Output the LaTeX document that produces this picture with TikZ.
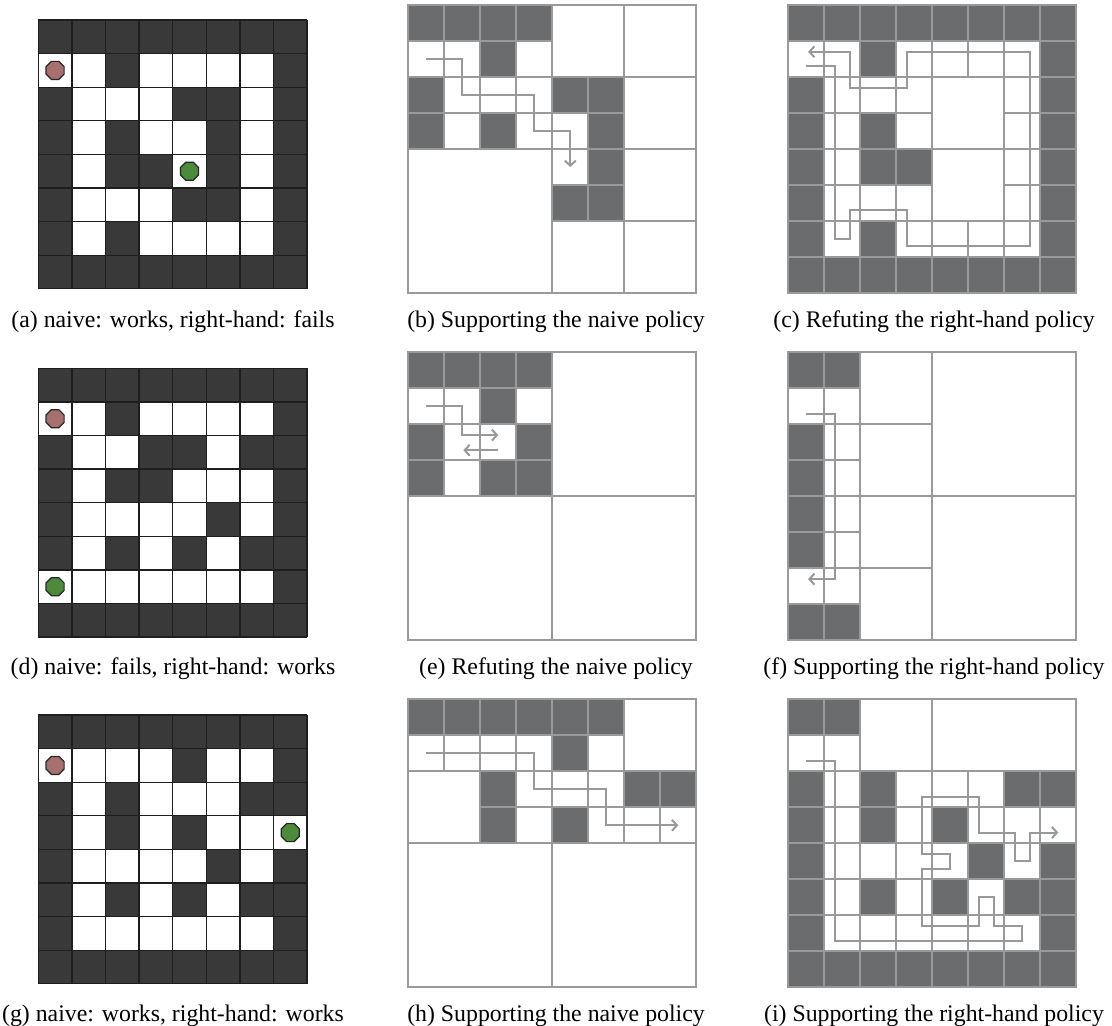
\documentclass[tikz,border=0pt]{standalone}
\usepackage{fontspec}
\setmainfont{Liberation Serif}
\usetikzlibrary{arrows.meta,shapes.geometric}
\definecolor{mzdark}{HTML}{393939}
\definecolor{mzline}{HTML}{1E1E1E}
\definecolor{qdark}{HTML}{6B6C6E}
\definecolor{qline}{HTML}{9A9A9A}
\definecolor{qpath}{HTML}{999999}
\definecolor{startc}{HTML}{A5706E}
\definecolor{goalc}{HTML}{4B8B3B}
\tikzset{
  qgrid/.style={draw=qline, line width=2pt},
  qpathst/.style={draw=qpath, line width=2pt, line join=miter, -{Straight Barb[length=5pt,width=11pt]}},
  mzgrid/.style={draw=mzline, line width=1.3pt},
  captionst/.style={font=\fontsize{23.8}{28}\selectfont, anchor=base, inner sep=0pt},
  dotst/.style={regular polygon, regular polygon sides=8, minimum size=19.5pt, inner sep=0pt, draw=black!85, line width=1.2pt},
}
\newcommand{\subgrid}[4]{\foreach \xx in {#1,...,#2}{\foreach \yy in {#3,...,#4}{\draw[qgrid] (\xx,\yy) rectangle ++(1,1);}}}
\newcommand{\blk}[3]{\draw[qgrid] (#1,#2) rectangle ++(#3,#3);}
\newcommand{\darkcells}[1]{\foreach \xx/\yy in {#1}{\fill[qdark] (\xx,\yy) rectangle ++(1,1);}}
\newcommand{\mazecells}[1]{%
  \fill[mzdark] (0,0) rectangle (8,8);
  \foreach \rr/\cs in {#1}{\foreach \cc in \cs {\fill[white] (\cc,\rr) rectangle ++(1,1);}}
  \foreach \ii in {0,...,8}{\draw[mzgrid] (\ii,0) -- (\ii,8); \draw[mzgrid] (0,\ii) -- (8,\ii);}
}
\begin{document}
\begin{tikzpicture}[x=1pt,y=-1pt]
\useasboundingbox (0,0) rectangle (1112,1026);
\fill[white] (0,0) rectangle (1112,1026);

% ---------- Row 1 ----------
\begin{scope}[x=33.6pt,y=-33.6pt,shift={(38.3pt,-20pt)}]
  \mazecells{1/{0,1,3,4,5,6},2/{1,2,3,6},3/{1,3,4,6},4/{1,4,6},5/{1,2,3,6},6/{1,3,4,5,6}}
  \node[dotst,fill=startc] (sa) at (0.5,1.5) {};
  \node[dotst,fill=goalc] (ga) at (4.5,4.5) {};
\end{scope}
\begin{scope}[x=36pt,y=-36pt,shift={(408.3pt,-5pt)}]
  \darkcells{0/0,1/0,2/0,3/0,2/1,0/2,0/3,2/3,4/2,5/2,5/3,5/4,4/5,5/5}
  \subgrid{0}{3}{0}{3}
  \subgrid{4}{5}{2}{5}
  \blk{4}{0}{2}\blk{6}{0}{2}\blk{6}{2}{2}\blk{0}{4}{4}\blk{6}{4}{2}\blk{4}{6}{2}\blk{6}{6}{2}
  \draw[qpathst] (0.5,1.5) -- (1.5,1.5) -- (1.5,2.5) -- (3.5,2.5) -- (3.5,3.5) -- (4.5,3.5) -- (4.5,4.5);
\end{scope}
\begin{scope}[x=36pt,y=-36pt,shift={(788.3pt,-5pt)}]
  \darkcells{0/0,1/0,2/0,3/0,4/0,5/0,6/0,7/0,0/7,1/7,2/7,3/7,4/7,5/7,6/7,7/7,
    0/2,0/3,0/4,0/5,0/6,7/1,7/2,7/3,7/4,7/5,7/6,2/1,2/3,2/4,3/4,2/6}
  \subgrid{0}{3}{0}{7}
  \subgrid{6}{7}{0}{7}
  \subgrid{4}{5}{0}{1}
  \subgrid{4}{5}{6}{7}
  \blk{4}{2}{2}\blk{4}{4}{2}
  \draw[qpathst] (0.5,1.7) -- (1.3,1.7) -- (1.3,6.5) -- (1.7,6.5) -- (1.7,5.7) -- (3.3,5.7) -- (3.3,6.7) -- (6.7,6.7) -- (6.7,1.3) -- (3.3,1.3) -- (3.3,2.3) -- (1.7,2.3) -- (1.7,1.3) -- (0.55,1.3);
\end{scope}
\node[captionst] (capa) at (173,327) {(a) naive: works, right-hand: fails};
\node[captionst] (capb) at (556,327) {(b) Supporting the naive policy};
\node[captionst] (capc) at (934,327) {(c) Refuting the right-hand policy};

% ---------- Row 2 ----------
\begin{scope}[x=33.6pt,y=-33.6pt,shift={(38.3pt,-368.3pt)}]
  \mazecells{1/{0,1,3,4,5,6},2/{1,2,5},3/{1,4,5,6},4/{1,2,3,4,6},5/{1,3,5},6/{0,1,2,3,4,5,6}}
  \node[dotst,fill=startc] (sd) at (0.5,1.5) {};
  \node[dotst,fill=goalc] (gd) at (0.5,6.5) {};
\end{scope}
\begin{scope}[x=36pt,y=-36pt,shift={(408.3pt,-352.3pt)}]
  \darkcells{0/0,1/0,2/0,3/0,2/1,0/2,3/2,0/3,2/3,3/3}
  \subgrid{0}{3}{0}{3}
  \blk{4}{0}{4}\blk{0}{4}{4}\blk{4}{4}{4}
  \draw[qpathst] (0.5,1.5) -- (1.5,1.5) -- (1.5,2.3) -- (2.5,2.3);
  \draw[qpathst] (2.5,2.72) -- (1.53,2.72);
\end{scope}
\begin{scope}[x=36pt,y=-36pt,shift={(788.3pt,-352.3pt)}]
  \darkcells{0/0,1/0,0/2,0/3,0/4,0/5,0/7,1/7}
  \subgrid{0}{1}{0}{7}
  \blk{2}{0}{2}\blk{2}{2}{2}\blk{2}{4}{2}\blk{2}{6}{2}\blk{4}{0}{4}\blk{4}{4}{4}
  \draw[qpathst] (0.5,1.7) -- (1.3,1.7) -- (1.3,6.3) -- (0.55,6.3);
\end{scope}
\node[captionst] (capd) at (173,674) {(d) naive: fails, right-hand: works};
\node[captionst] (cape) at (556,674) {(e) Refuting the naive policy};
\node[captionst] (capf) at (934,674) {(f) Supporting the right-hand policy};

% ---------- Row 3 ----------
\begin{scope}[x=33.6pt,y=-33.6pt,shift={(38.3pt,-715pt)}]
  \mazecells{1/{0,1,2,3,5,6},2/{1,3,4,5},3/{1,3,5,6,7},4/{1,2,3,4,6},5/{1,3,5},6/{1,2,3,4,5,6}}
  \node[dotst,fill=startc] (sg) at (0.5,1.5) {};
  \node[dotst,fill=goalc] (gg) at (7.5,3.5) {};
\end{scope}
\begin{scope}[x=36pt,y=-36pt,shift={(408.3pt,-699.3pt)}]
  \darkcells{0/0,1/0,2/0,3/0,4/0,5/0,4/1,2/2,2/3,6/2,7/2,4/3}
  \subgrid{0}{5}{0}{1}
  \subgrid{2}{7}{2}{3}
  \blk{6}{0}{2}\blk{0}{2}{2}\blk{0}{4}{4}\blk{4}{4}{4}
  \draw[qpathst] (0.5,1.5) -- (3.5,1.5) -- (3.5,2.5) -- (5.5,2.5) -- (5.5,3.5) -- (7.5,3.5);
\end{scope}
\begin{scope}[x=36pt,y=-36pt,shift={(788.3pt,-699.3pt)}]
  \darkcells{0/0,1/0,0/2,2/2,6/2,7/2,0/3,2/3,4/3,0/4,5/4,7/4,0/5,2/5,4/5,6/5,7/5,0/6,7/6,
    0/7,1/7,2/7,3/7,4/7,5/7,6/7,7/7}
  \subgrid{0}{1}{0}{1}
  \subgrid{0}{7}{2}{7}
  \blk{2}{0}{2}
  \draw[qgrid] (4,0) rectangle (8,2);
  \draw[qpathst] (0.5,1.7) -- (1.3,1.7) -- (1.3,6.7) -- (6.5,6.7) -- (6.5,6.3) -- (5.7,6.3) -- (5.7,5.5) -- (5.3,5.5) -- (5.3,6.3) -- (3.7,6.3) -- (3.7,4.7) -- (4.5,4.7) -- (4.5,4.3) -- (3.7,4.3) -- (3.7,2.7) -- (5.3,2.7) -- (5.3,3.7) -- (6.3,3.7) -- (6.3,4.5) -- (6.7,4.5) -- (6.7,3.7) -- (7.5,3.7);
\end{scope}
\node[captionst] (capg) at (173,1021) {(g) naive: works, right-hand: works};
\node[captionst] (caph) at (556,1021) {(h) Supporting the naive policy};
\node[captionst] (capi) at (934,1021) {(i) Supporting the right-hand policy};
\end{tikzpicture}
\end{document}
